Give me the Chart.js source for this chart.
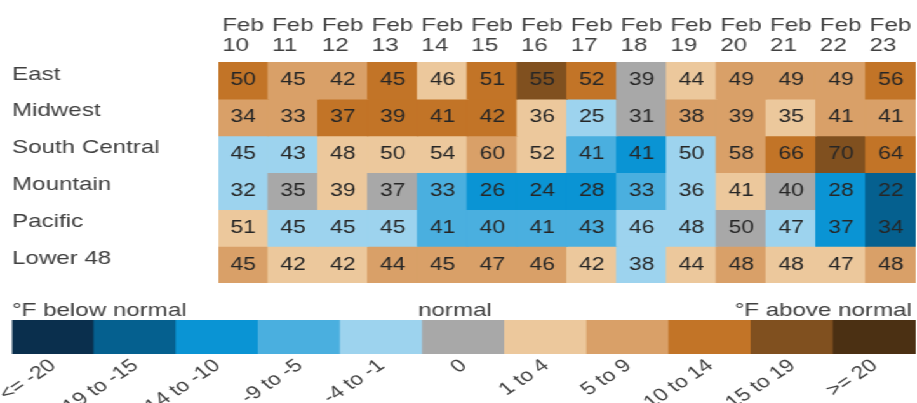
<!DOCTYPE html>
<html>
<head>
<meta charset="utf-8">
<script src="https://cdn.jsdelivr.net/npm/chart.js@4.4.1/dist/chart.umd.min.js"></script>
<style>
  html, body { margin: 0; padding: 0; background: #fff; overflow: hidden; }
  /* the reference is stretched sideways, so draw narrow and widen */
  #wrap { position: relative; width: 722px; height: 403px; transform: scaleX(1.27); transform-origin: 0 0; }
  #heat { position: absolute; left: 0; top: 0; }
  #key { position: absolute; left: 0; top: 290px; }
</style>
</head>
<body>
<div id="wrap">
  <canvas id="heat" width="722" height="285"></canvas>
  <canvas id="key" width="722" height="113"></canvas>
</div>
<script>
// Tick labels
const days = ['10', '11', '12', '13', '14', '15', '16', '17', '18', '19', '20', '21', '22', '23'];
const regions = ['East', 'Midwest', 'South Central', 'Mountain', 'Pacific', 'Lower 48'];

// Temperatures (°F) shown in each cell
const east         = [50, 45, 42, 45, 46, 51, 55, 52, 39, 44, 49, 49, 49, 56];
const midwest      = [34, 33, 37, 39, 41, 42, 36, 25, 31, 38, 39, 35, 41, 41];
const southCentral = [45, 43, 48, 50, 54, 60, 52, 41, 41, 50, 58, 66, 70, 64];
const mountain     = [32, 35, 39, 37, 33, 26, 24, 28, 33, 36, 41, 40, 28, 22];
const pacific      = [51, 45, 45, 45, 41, 40, 41, 43, 46, 48, 50, 47, 37, 34];
const lower48      = [45, 42, 42, 44, 45, 47, 46, 42, 38, 44, 48, 48, 47, 48];

// Departure-from-normal class of each cell (index into binLabels)
const eastBin         = [8, 7, 7, 8, 6, 8, 9, 8, 5, 6, 7, 7, 7, 8];
const midwestBin      = [7, 7, 8, 8, 8, 8, 6, 4, 5, 7, 7, 6, 7, 7];
const southCentralBin = [4, 4, 6, 6, 6, 7, 6, 3, 2, 4, 7, 8, 9, 8];
const mountainBin     = [4, 5, 6, 5, 3, 2, 2, 2, 3, 4, 6, 5, 2, 1];
const pacificBin      = [6, 4, 4, 4, 3, 3, 3, 3, 4, 4, 5, 4, 2, 1];
const lower48Bin      = [7, 6, 6, 7, 7, 7, 7, 6, 4, 6, 7, 6, 6, 7];

const binLabels = ['<= -20', '-19 to -15', '-14 to -10', '-9 to -5', '-4 to -1', '0',
                   '1 to 4', '5 to 9', '10 to 14', '15 to 19', '>= 20'];
const palette = ['#0a2f4d', '#05608f', '#0a94d4', '#4aafdf', '#9dd3ee', '#a8a8a8',
                 '#ecc89c', '#d9a068', '#c27427', '#80501f', '#4b3013'];

const temps = [east, midwest, southCentral, mountain, pacific, lower48];
const bins = [eastBin, midwestBin, southCentralBin, mountainBin, pacificBin, lower48Bin];

const FONT = '"Liberation Sans", Arial, sans-serif';
Chart.defaults.font.family = FONT;
Chart.defaults.color = '#404040';

// write the temperature in the middle of each cell
const cellText = {
  id: 'cellText',
  afterDatasetsDraw(chart) {
    const ctx = chart.ctx;
    ctx.save();
    ctx.font = '18px ' + FONT;
    ctx.fillStyle = '#262626';
    ctx.textAlign = 'center';
    ctx.textBaseline = 'middle';
    chart.data.datasets.forEach((ds, r) => {
      chart.getDatasetMeta(r).data.forEach((bar, c) => {
        ctx.fillText(String(temps[r][c]), bar.x, (bar.y + bar.base) / 2);
      });
    });
    ctx.restore();
  }
};

const heatChart = new Chart(document.getElementById('heat'), {
  type: 'bar',
  data: {
    labels: days.map(d => ['Feb', d]),
    datasets: regions.map((name, r) => ({
      label: name,
      data: days.map(() => [r, r + 1]),
      backgroundColor: bins[r].map(b => palette[b]),
      grouped: false,
      barPercentage: 1,
      categoryPercentage: 1,
      borderWidth: 0,
      inflateAmount: 0.6
    }))
  },
  options: {
    responsive: false,
    animation: false,
    layout: { padding: { left: 9.5, right: 1, top: 0, bottom: 2 } },
    plugins: { legend: { display: false }, tooltip: { enabled: false } },
    scales: {
      x: {
        position: 'top',
        grid: { display: false, drawTicks: false },
        border: { display: false },
        ticks: {
          align: 'start', labelOffset: -16.6, padding: 6,
          maxRotation: 0, autoSkip: false,
          font: { size: 19, lineHeight: 20 / 19 }
        },
        afterFit: s => { s.height = 62; s.paddingLeft = 0; s.paddingRight = 0; }
      },
      y: {
        type: 'linear', min: 0, max: 6, reverse: true,
        grid: { display: false, drawTicks: false },
        border: { display: false },
        afterBuildTicks: s => { s.ticks = regions.map((_, i) => ({ value: i + 0.5 })); },
        ticks: {
          callback: v => regions[Math.floor(v)],
          crossAlign: 'far', labelOffset: -6, padding: 0, autoSkip: false,
          font: { size: 19 }
        },
        afterFit: s => { s.width = 162.5; s.paddingTop = 0; s.paddingBottom = 0; }
      }
    }
  },
  plugins: [cellText]
});

// captions above the colour key
const keyTitles = {
  id: 'keyTitles',
  afterDraw(chart) {
    const { ctx, chartArea: a } = chart;
    ctx.save();
    ctx.font = '19px ' + FONT;
    ctx.fillStyle = '#404040';
    ctx.textBaseline = 'alphabetic';
    const y = a.top - 4.5;
    ctx.textAlign = 'left';
    ctx.fillText('°F below normal', a.left, y);
    ctx.textAlign = 'center';
    ctx.fillText('normal', (a.left + a.right) / 2 - 7, y);
    ctx.textAlign = 'right';
    ctx.fillText('°F above normal', a.right - 3, y);
    ctx.restore();
  }
};

const keyChart = new Chart(document.getElementById('key'), {
  type: 'bar',
  data: {
    labels: binLabels,
    datasets: [{
      data: binLabels.map(() => 1),
      backgroundColor: palette,
      barPercentage: 1,
      categoryPercentage: 1,
      borderWidth: 0,
      inflateAmount: 0.6
    }]
  },
  options: {
    responsive: false,
    animation: false,
    layout: { padding: { left: 9.5, right: 1, top: 30, bottom: 0 } },
    plugins: { legend: { display: false }, tooltip: { enabled: false } },
    scales: {
      x: {
        grid: { display: false, drawTicks: false },
        border: { display: false },
        ticks: { minRotation: 40, maxRotation: 40, padding: 1, autoSkip: false, font: { size: 18 } },
        afterFit: s => { s.height = 49; s.paddingLeft = 0; s.paddingRight = 0; }
      },
      y: { display: false, min: 0, max: 1 }
    }
  },
  plugins: [keyTitles]
});
</script>
</body>
</html>
